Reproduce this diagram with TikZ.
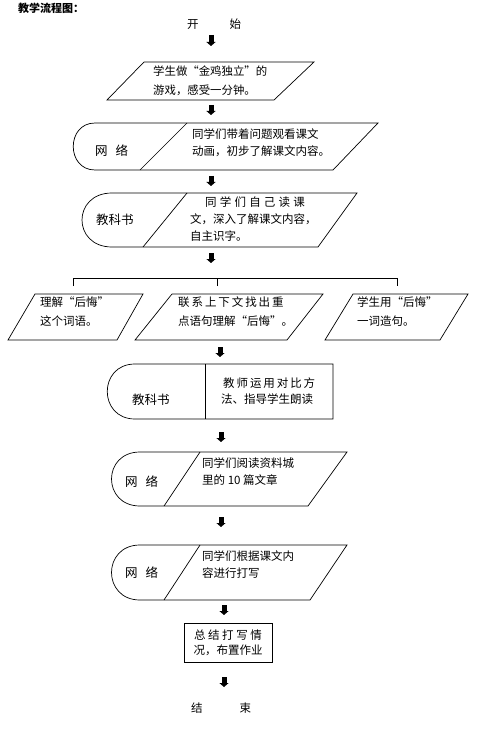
\documentclass[tikz,border=0pt]{standalone}
\usepackage{fontspec}
\newfontfamily\cjk{Noto Sans CJK SC}
\usetikzlibrary{arrows.meta}
\tikzset{
  fatarrow/.style={line width=5pt, -{Triangle[width=9pt,length=4pt]}},
  outline/.style={draw, line width=0.7pt},
  txt/.style={font=\cjk\fontsize{11.5}{17}\selectfont, align=left, inner sep=0pt, anchor=west},
  tag/.style={txt, font=\cjk\fontsize{12.5}{15}\selectfont},
}
\begin{document}
\begin{tikzpicture}[x=1pt,y=-1pt]
  \useasboundingbox (0,0) rectangle (483,735);
  % title, start
  \node[txt, font=\cjk\bfseries\fontsize{11}{13}\selectfont] (title) at (18,8) {教学流程图：};
  \node[txt] (start) at (187,24) {开\hspace{31pt}始};
  % step outlines
  \draw[outline] (144,62) -- (314,62) -- (274,100) -- (107,100) -- cycle;
  \draw[outline] (95,123) -- (378,123) -- (333,170) -- (95,170) .. controls (66,170) and (66,123) .. (95,123) -- cycle;
  \draw[outline] (187,123) -- (140,170);
  \draw[outline] (112,193) -- (357,193) -- (318,247) -- (112,247) .. controls (72,247) and (72,193) .. (112,193) -- cycle;
  \draw[outline] (187,193) -- (143,247);
  \draw[outline] (35,294) -- (143,294) -- (117,340) -- (8,340) -- cycle;
  \draw[outline] (172,294) -- (323,294) -- (287,340) -- (135,340) -- cycle;
  \draw[outline] (353,294) -- (468,294) -- (440,340) -- (325,340) -- cycle;
  \draw[outline] (135,364) -- (333,364) -- (333,419) -- (135,419) .. controls (98,419) and (98,364) .. (135,364) -- cycle;
  \draw[outline] (205,364) -- (205,419);
  \draw[outline] (140,452) -- (347,452) -- (308,506) -- (140,506) .. controls (102,506) and (102,452) .. (140,452) -- cycle;
  \draw[outline] (200,452) -- (164,506);
  \draw[outline] (140,545) -- (347,545) -- (310,600) -- (140,600) .. controls (102,600) and (102,545) .. (140,545) -- cycle;
  \draw[outline] (200,545) -- (164,600);
  % step texts
  \node[txt, font=\cjk\fontsize{11.4}{19}\selectfont] (game) at (153,81) {学生做“金鸡独立”的\\游戏，感受一分钟。};
  \node[tag] (net1) at (95,151) {网\hspace{8pt}络};
  \node[txt] (video) at (192,143) {同学们带着问题观看课文\\动画，初步了解课文内容。};
  \node[tag] (book1) at (96,220) {教科书};
  \node[txt] (read) at (190,219) {\hspace{15pt}同\;学\;们\;自\;己\;读\;课\\文，深入了解课文内容，\\自主识字。};
  \node[txt, font=\cjk\fontsize{11.5}{19}\selectfont] (word) at (40,312) {理解“后悔”\\这个词语。};
  \node[txt, font=\cjk\fontsize{11.5}{19}\selectfont] (context) at (178,312) {联\,系\,上\,下\,文\,找\,出\,重\\点语句理解“后悔”。};
  \node[txt, font=\cjk\fontsize{11.5}{19}\selectfont] (sentence) at (357,312) {学生用“后悔”\\一词造句。};
  \node[tag] (book2) at (132,400) {教科书};
  \node[txt, font=\cjk\fontsize{11.5}{16}\selectfont] (teacher) at (221,391) {\hspace{2pt}教\,师\,运\,用\,对\,比\,方\\法、指导学生朗读};
  \node[tag] (net2) at (125,482) {网\hspace{8pt}络};
  \node[txt] (library) at (202,471.5) {同学们阅读资料城\\里的 10 篇文章};
  \node[tag] (net3) at (125,573) {网\hspace{8pt}络};
  \node[txt] (typing) at (202,564.5) {同学们根据课文内\\容进行打写};
  \node[outline, font=\cjk\fontsize{11.5}{15}\selectfont, align=center, minimum width=88pt, minimum height=39pt, inner sep=0pt] (summary) at (228,642.5) {总 结 打 写 情\\况，布置作业};
  \node[txt] (finish) at (191,708) {结\hspace{37pt}束};
  % branch
  \coordinate (brl) at (73,286);
  \coordinate (brm) at (217,286);
  \coordinate (brr) at (397,286);
  \draw[line width=0.7pt] (brl) -- (brl |- 0,278) -- (brr |- 0,278) -- (brr);
  \draw[line width=0.7pt] (brm) -- (brm |- 0,278);
  % arrows
  \foreach \x/\ya/\yb [count=\i] in {211/35/46, 211/105/115, 211/176/186, 211/253/263,
      220/347/357, 221/432/442, 221/517/527, 224/605/615, 224/677/687}{
    \coordinate (arr\i t) at (\x,\ya);
    \coordinate (arr\i b) at (\x,\yb);
    \draw[fatarrow] (arr\i t) -- (arr\i b);
  }
\end{tikzpicture}
\end{document}
